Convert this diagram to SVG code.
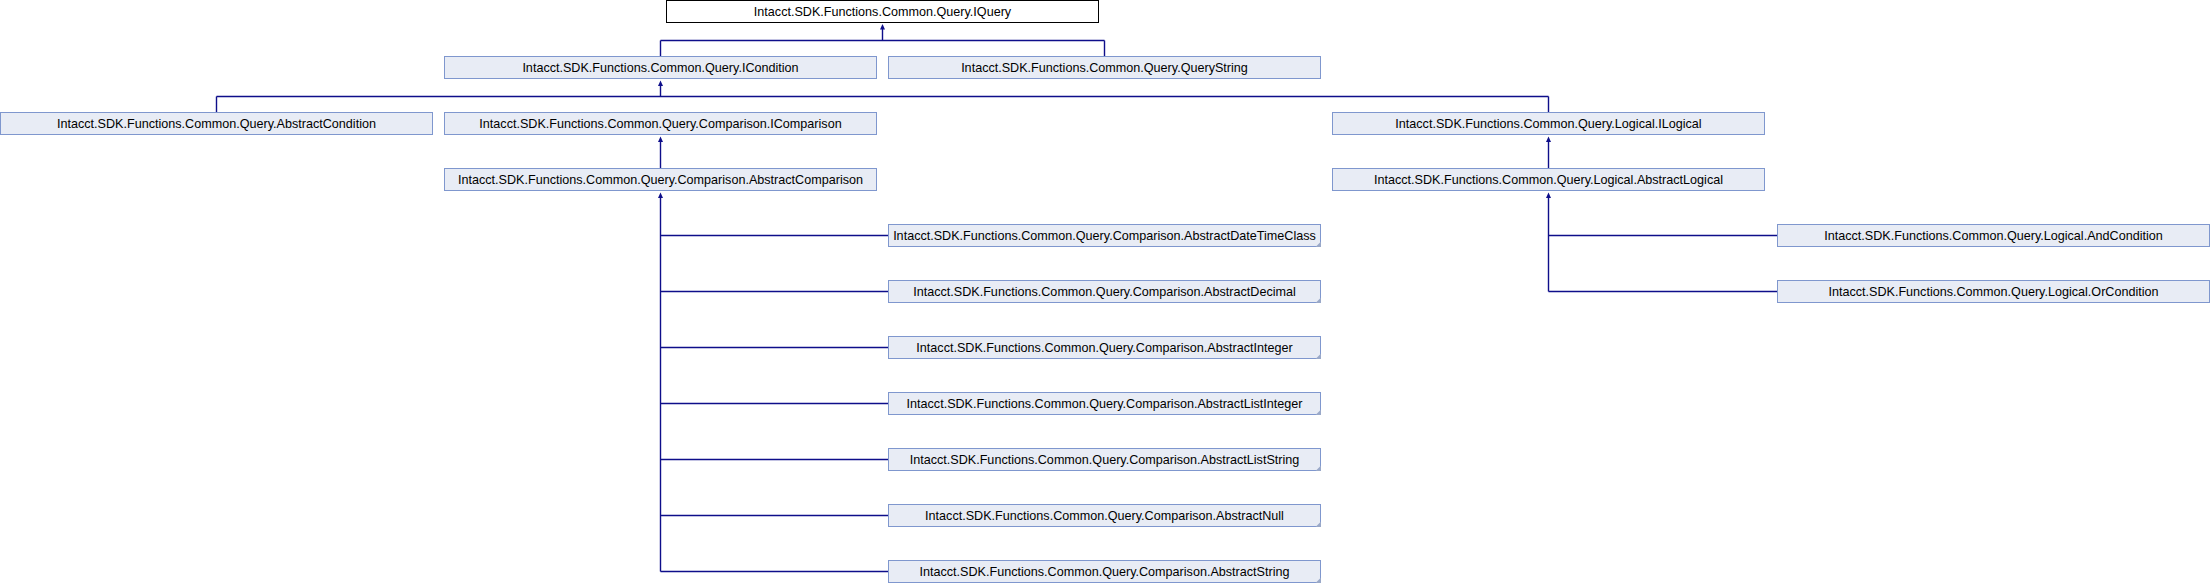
<svg xmlns="http://www.w3.org/2000/svg" width="2210" height="584" viewBox="0 0 2210 584">
<defs>
<style>
.b{fill:#E8ECF5;stroke:#7F97CE;stroke-width:1}
.cur{fill:#FFFFFF;stroke:#000000;stroke-width:1}
.t{font-family:"Liberation Sans",Arial,sans-serif;font-size:12.6px;fill:#000;text-anchor:middle}
.c{fill:none;stroke:#0E0E8A;stroke-width:1.4}
.a{fill:#0E0E8A;stroke:none}
.k{fill:#9AA9C9;stroke:none}
</style>
</defs>
<rect width="2210" height="584" fill="#FFFFFF"/>
<g id="connectors">
<path class="c" d="M882.5,28 V40.5 M660.5,40.5 H1104.5 M660.5,40.5 V56.5 M1104.5,40.5 V56.5"/>
<polygon class="a" points="882.5,24 880,29.5 885,29.5"/>
<path class="c" d="M660.5,85 V96.5 M216.5,96.5 H1548.5 M216.5,96.5 V112.5 M1548.5,96.5 V112.5"/>
<polygon class="a" points="660.5,80.5 658,86 663,86"/>
<path class="c" d="M660.5,141 V168.5"/>
<polygon class="a" points="660.5,136.5 658,142 663,142"/>
<path class="c" d="M1548.5,141 V168.5"/>
<polygon class="a" points="1548.5,136.5 1546,142 1551,142"/>
<path class="c" d="M660.5,197 V571.5 M660.5,235.5 H888.5 M660.5,291.5 H888.5 M660.5,347.5 H888.5 M660.5,403.5 H888.5 M660.5,459.5 H888.5 M660.5,515.5 H888.5 M660.5,571.5 H888.5"/>
<polygon class="a" points="660.5,192.5 658,198 663,198"/>
<path class="c" d="M1548.5,197 V291.5 M1548.5,235.5 H1777.5 M1548.5,291.5 H1777.5"/>
<polygon class="a" points="1548.5,192.5 1546,198 1551,198"/>
</g>
<g id="IQuery"><rect class="cur" x="666.5" y="0.5" width="432" height="22"/><text class="t" x="882.5" y="16">Intacct.SDK.Functions.Common.Query.IQuery</text></g>
<g id="ICondition"><rect class="b" x="444.5" y="56.5" width="432" height="22"/><text class="t" x="660.5" y="72">Intacct.SDK.Functions.Common.Query.ICondition</text></g>
<g id="QueryString"><rect class="b" x="888.5" y="56.5" width="432" height="22"/><text class="t" x="1104.5" y="72">Intacct.SDK.Functions.Common.Query.QueryString</text></g>
<g id="AbstractCondition"><rect class="b" x="0.5" y="112.5" width="432" height="22"/><text class="t" x="216.5" y="128">Intacct.SDK.Functions.Common.Query.AbstractCondition</text></g>
<g id="IComparison"><rect class="b" x="444.5" y="112.5" width="432" height="22"/><text class="t" x="660.5" y="128">Intacct.SDK.Functions.Common.Query.Comparison.IComparison</text></g>
<g id="ILogical"><rect class="b" x="1332.5" y="112.5" width="432" height="22"/><text class="t" x="1548.5" y="128">Intacct.SDK.Functions.Common.Query.Logical.ILogical</text></g>
<g id="AbstractComparison"><rect class="b" x="444.5" y="168.5" width="432" height="22"/><text class="t" x="660.5" y="184">Intacct.SDK.Functions.Common.Query.Comparison.AbstractComparison</text></g>
<g id="AbstractLogical"><rect class="b" x="1332.5" y="168.5" width="432" height="22"/><text class="t" x="1548.5" y="184">Intacct.SDK.Functions.Common.Query.Logical.AbstractLogical</text></g>
<g id="AbstractDateTimeClass"><rect class="b" x="888.5" y="224.5" width="432" height="22"/><polygon class="k" points="1321,241.5 1321,247 1315.5,247"/><text class="t" x="1104.5" y="240">Intacct.SDK.Functions.Common.Query.Comparison.AbstractDateTimeClass</text></g>
<g id="AndCondition"><rect class="b" x="1777.5" y="224.5" width="432" height="22"/><text class="t" x="1993.5" y="240">Intacct.SDK.Functions.Common.Query.Logical.AndCondition</text></g>
<g id="AbstractDecimal"><rect class="b" x="888.5" y="280.5" width="432" height="22"/><polygon class="k" points="1321,297.5 1321,303 1315.5,303"/><text class="t" x="1104.5" y="296">Intacct.SDK.Functions.Common.Query.Comparison.AbstractDecimal</text></g>
<g id="OrCondition"><rect class="b" x="1777.5" y="280.5" width="432" height="22"/><text class="t" x="1993.5" y="296">Intacct.SDK.Functions.Common.Query.Logical.OrCondition</text></g>
<g id="AbstractInteger"><rect class="b" x="888.5" y="336.5" width="432" height="22"/><polygon class="k" points="1321,353.5 1321,359 1315.5,359"/><text class="t" x="1104.5" y="352">Intacct.SDK.Functions.Common.Query.Comparison.AbstractInteger</text></g>
<g id="AbstractListInteger"><rect class="b" x="888.5" y="392.5" width="432" height="22"/><polygon class="k" points="1321,409.5 1321,415 1315.5,415"/><text class="t" x="1104.5" y="408">Intacct.SDK.Functions.Common.Query.Comparison.AbstractListInteger</text></g>
<g id="AbstractListString"><rect class="b" x="888.5" y="448.5" width="432" height="22"/><polygon class="k" points="1321,465.5 1321,471 1315.5,471"/><text class="t" x="1104.5" y="464">Intacct.SDK.Functions.Common.Query.Comparison.AbstractListString</text></g>
<g id="AbstractNull"><rect class="b" x="888.5" y="504.5" width="432" height="22"/><polygon class="k" points="1321,521.5 1321,527 1315.5,527"/><text class="t" x="1104.5" y="520">Intacct.SDK.Functions.Common.Query.Comparison.AbstractNull</text></g>
<g id="AbstractString"><rect class="b" x="888.5" y="560.5" width="432" height="22"/><polygon class="k" points="1321,577.5 1321,583 1315.5,583"/><text class="t" x="1104.5" y="576">Intacct.SDK.Functions.Common.Query.Comparison.AbstractString</text></g>
</svg>
